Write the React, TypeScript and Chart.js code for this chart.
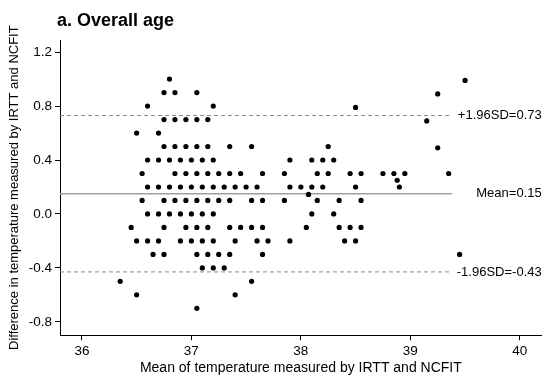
import React, { useEffect, useRef } from "react";
import { Chart, registerables } from "chart.js";

Chart.register(...registerables);

// Mean of temperature (x) and difference (y)
const meanTemp: number[] = [
  // 1.0
  36.8, 39.5,
  // 0.9
  36.75, 36.85, 37.05, 39.25,
  // 0.8
  36.6, 37.2, 38.5,
  // 0.7
  36.75, 36.85, 36.95, 37.05, 37.15, 39.15,
  // 0.6
  36.5, 36.7,
  // 0.5
  36.75, 36.85, 36.95, 37.05, 37.15, 37.35, 37.55, 38.25, 39.25,
  // 0.4
  36.6, 36.7, 36.8, 36.9, 37.0, 37.1, 37.2, 37.9, 38.1, 38.2, 38.3,
  // 0.3
  36.55, 36.85, 36.95, 37.05, 37.15, 37.25, 37.35, 37.45, 37.65, 37.85, 38.15, 38.25, 38.45, 38.55, 38.75, 38.85, 38.95, 39.35,
  // 0.25
  38.88,
  // 0.2
  36.6, 36.7, 36.8, 36.9, 37.0, 37.1, 37.2, 37.3, 37.4, 37.5, 37.6, 37.9, 38.0, 38.1, 38.2, 38.5, 38.9,
  // 0.15
  38.07,
  // 0.1
  36.55, 36.75, 36.85, 36.95, 37.05, 37.15, 37.25, 37.35, 37.55, 37.65, 37.85, 38.15, 38.35, 38.55,
  // 0.0
  36.6, 36.7, 36.8, 36.9, 37.0, 37.1, 37.2, 38.1, 38.3,
  // -0.1
  36.45, 36.75, 36.95, 37.05, 37.15, 37.35, 37.45, 37.55, 37.65, 38.05, 38.35, 38.45, 38.55,
  // -0.2
  36.5, 36.6, 36.7, 36.9, 37.0, 37.1, 37.2, 37.4, 37.6, 37.7, 37.9, 38.4, 38.5,
  // -0.3
  36.65, 36.75, 37.05, 37.15, 37.25, 37.35, 37.65, 39.45,
  // -0.4
  37.1, 37.2, 37.3,
  // -0.5
  36.35, 37.55,
  // -0.6
  36.5, 37.4,
  // -0.7
  37.05,
];

const tempDiff: number[] = [
  1.0, 0.99,
  0.9, 0.9, 0.9, 0.89,
  0.8, 0.8, 0.79,
  0.7, 0.7, 0.7, 0.7, 0.7, 0.69,
  0.6, 0.6,
  0.5, 0.5, 0.5, 0.5, 0.5, 0.5, 0.5, 0.5, 0.49,
  0.4, 0.4, 0.4, 0.4, 0.4, 0.4, 0.4, 0.4, 0.4, 0.4, 0.4,
  0.3, 0.3, 0.3, 0.3, 0.3, 0.3, 0.3, 0.3, 0.3, 0.3, 0.3, 0.3, 0.3, 0.3, 0.3, 0.3, 0.3, 0.3,
  0.25,
  0.2, 0.2, 0.2, 0.2, 0.2, 0.2, 0.2, 0.2, 0.2, 0.2, 0.2, 0.2, 0.2, 0.2, 0.2, 0.2, 0.2,
  0.145,
  0.1, 0.1, 0.1, 0.1, 0.1, 0.1, 0.1, 0.1, 0.1, 0.1, 0.1, 0.1, 0.1, 0.1,
  0.0, 0.0, 0.0, 0.0, 0.0, 0.0, 0.0, 0.0, 0.0,
  -0.1, -0.1, -0.1, -0.1, -0.1, -0.1, -0.1, -0.1, -0.1, -0.1, -0.1, -0.1, -0.1,
  -0.2, -0.2, -0.2, -0.2, -0.2, -0.2, -0.2, -0.2, -0.2, -0.2, -0.2, -0.2, -0.2,
  -0.3, -0.3, -0.3, -0.3, -0.3, -0.3, -0.3, -0.3,
  -0.4, -0.4, -0.4,
  -0.5, -0.5,
  -0.6, -0.6,
  -0.7,
];

const meanDiff = 0.15;
const upperLimit = 0.73;
const lowerLimit = -0.43;
const lineRange: number[] = [35.8, 39.38];

const xTicks: number[] = [36, 37, 38, 39, 40];
const yTicks: number[] = [-0.8, -0.4, 0.0, 0.4, 0.8, 1.2];
const xRange: number[] = [35.8, 40.2];
const yRange: number[] = [-0.9, 1.29];

const titleText = "a. Overall age";
const xTitle = "Mean of temperature measured by IRTT and NCFIT";
const yTitle = "Difference in temperature measured by IRTT and NCFIT";

const FONT = '"Liberation Sans", Arial, Helvetica, sans-serif';

export default function App() {
  const ref = useRef<HTMLCanvasElement | null>(null);

  useEffect(() => {
    if (!ref.current) return;
    Chart.defaults.font.family = FONT;

    const hLine = (v: number) => lineRange.map((x) => ({ x, y: v }));

    const annotations = {
      id: "annotations",
      afterDraw(chart: any) {
        const { ctx, chartArea, scales } = chart;
        ctx.save();
        ctx.fillStyle = "#000";
        ctx.font = `bold 18px ${FONT}`;
        ctx.textAlign = "left";
        ctx.textBaseline = "alphabetic";
        ctx.fillText(titleText, 57, 26);

        ctx.font = `13px ${FONT}`;
        ctx.textAlign = "right";
        ctx.textBaseline = "middle";
        const items: [string, number][] = [
          [`+1.96SD=${upperLimit.toFixed(2)}`, upperLimit],
          [`Mean=${meanDiff.toFixed(2)}`, meanDiff],
          [`-1.96SD=${lowerLimit.toFixed(2)}`, lowerLimit],
        ];
        for (const [t, v] of items) {
          ctx.fillText(t, chartArea.right, scales.y.getPixelForValue(v));
        }
        ctx.restore();
      },
    };

    const chart = new Chart(ref.current, {
      type: "scatter",
      data: {
        datasets: [
          {
            label: "points",
            data: meanTemp.map((x, i) => ({ x, y: tempDiff[i] })),
            pointRadius: 2.6,
            pointBackgroundColor: "#000",
            pointBorderWidth: 0,
            showLine: false,
          },
          {
            label: "upper",
            data: hLine(upperLimit),
            showLine: true,
            borderColor: "#8c8c8c",
            borderWidth: 1,
            borderDash: [4, 3],
            pointRadius: 0,
          },
          {
            label: "mean",
            data: hLine(meanDiff),
            showLine: true,
            borderColor: "#a0a0a0",
            borderWidth: 1.6,
            pointRadius: 0,
          },
          {
            label: "lower",
            data: hLine(lowerLimit),
            showLine: true,
            borderColor: "#8c8c8c",
            borderWidth: 1,
            borderDash: [4, 3],
            pointRadius: 0,
          },
        ] as any,
      },
      options: {
        animation: false,
        responsive: false,
        maintainAspectRatio: false,
        layout: { padding: { top: 40, right: 8.3, left: 0, bottom: 0 } },
        plugins: {
          legend: { display: false },
          tooltip: { enabled: false },
          title: { display: false },
        },
        scales: {
          x: {
            type: "linear",
            min: xRange[0],
            max: xRange[1],
            afterBuildTicks: (s: any) => {
              s.ticks = xTicks.map((value) => ({ value }));
            },
            afterFit: (s: any) => {
              s.height = 48.7;
            },
            ticks: {
              color: "#000",
              font: { size: 13.5 },
              padding: 3,
              callback: (v: any) => String(v),
            },
            grid: {
              drawOnChartArea: false,
              drawTicks: true,
              tickLength: 5,
              color: "#000",
            },
            border: { display: true, color: "#000", width: 1 },
            title: {
              display: true,
              text: xTitle,
              color: "#000",
              font: { size: 14 },
              padding: { top: 0, bottom: 7.6 },
            },
          },
          y: {
            type: "linear",
            min: yRange[0],
            max: yRange[1],
            afterBuildTicks: (s: any) => {
              s.ticks = yTicks.map((value) => ({ value }));
            },
            afterFit: (s: any) => {
              s.width = 60;
            },
            ticks: {
              color: "#000",
              font: { size: 13.5 },
              padding: 3,
              callback: (v: any) => Number(v).toFixed(1),
            },
            grid: {
              drawOnChartArea: false,
              drawTicks: true,
              tickLength: 5,
              color: "#000",
            },
            border: { display: true, color: "#000", width: 1 },
            title: {
              display: true,
              text: yTitle,
              color: "#000",
              font: { size: 13 },
              padding: { top: 6.6, bottom: 0 },
            },
          },
        },
      },
      plugins: [annotations],
    });

    return () => chart.destroy();
  }, []);

  return (
    <div style={{ position: "absolute", left: 0, top: 0, width: 550, height: 384, background: "#fff" }}>
      <canvas ref={ref} width={550} height={384} style={{ display: "block" }} />
    </div>
  );
}
